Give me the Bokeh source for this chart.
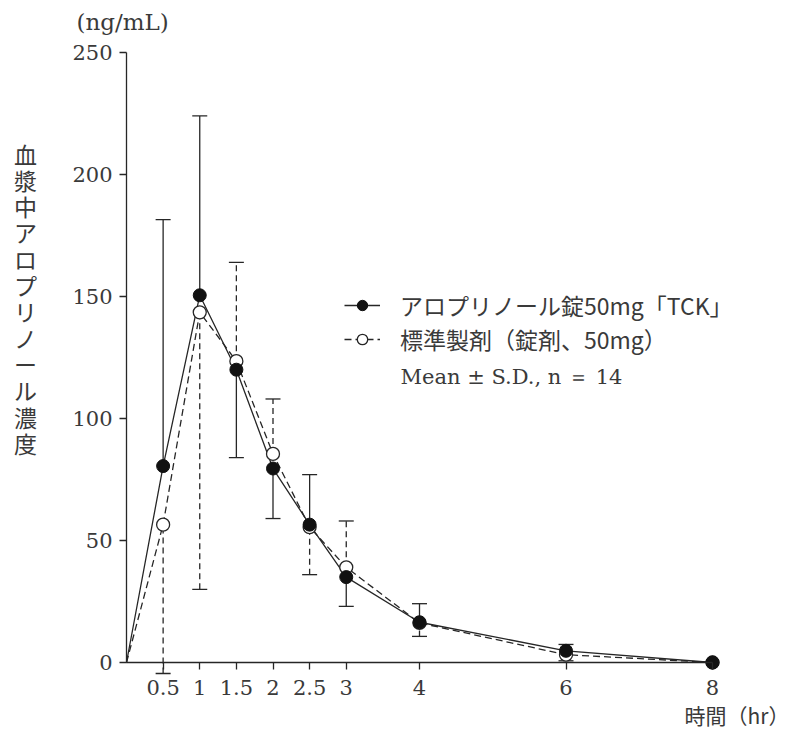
from bokeh.plotting import figure
from bokeh.models import (ColumnDataSource, Whisker, TeeHead, FixedTicker, Legend,
                          LegendItem, Label, Range1d)
from bokeh.embed import file_html
from bokeh.resources import INLINE

# ---------------- data ----------------
time = [0, 0.5, 1, 1.5, 2, 2.5, 3, 4, 6, 8]
test_mean = [0, 80.5, 150.5, 120, 79.5, 56.5, 35, 16.5, 4.8, 0]
test_sd = [0, 101, 73.5, 36, 20.5, 20.5, 12, 7.6, 2.6, 0]
ref_mean = [0, 56.5, 143.5, 123.5, 85.5, 55.5, 39, 16.2, 3.2, 0]
ref_sd = [0, 61, 113.5, 40.5, 22.5, 19.5, 19, 5.5, 2.5, 0]

x_ticks = [0.5, 1, 1.5, 2, 2.5, 3, 4, 6, 8]
x_tick_labels = ["0.5", "1", "1.5", "2", "2.5", "3", "4", "6", "8"]
y_ticks = [0, 50, 100, 150, 200, 250]

test_label = "アロプリノール錠50mg「TCK」"
ref_label = "標準製剤（錠剤、50mg）"
note_label = "Mean ± S.D., n ＝ 14"
y_title = "血漿中アロプリノール濃度"
unit_title = "(ng/mL)"
x_title = "時間（hr）"

# ---------------- layout ----------------
W, H = 792, 729
PX0, PY0 = 126, 662       # pixel of x=0 / y=0
SX, SY = 73.25, 2.44      # pixels per unit


def dx(px):
    return (px - PX0) / SX


def dy(py):
    return (PY0 - py) / SY


INK = "#262626"
TXT = "#3a3a3a"

p = figure(width=W, height=H, x_range=Range1d(dx(0), dx(W)), y_range=Range1d(dy(H), dy(0)),
           output_backend="svg", toolbar_location=None,
           min_border_left=0, min_border_right=0, min_border_top=0, min_border_bottom=0)
p.outline_line_color = None
p.grid.visible = False
p.background_fill_color = "white"
p.border_fill_color = "white"

# axes
p.xaxis.fixed_location = 0
p.yaxis.fixed_location = 0
p.xaxis.bounds = (0, 8)
p.yaxis.bounds = (0, 250)
p.xaxis.ticker = FixedTicker(ticks=x_ticks)
p.yaxis.ticker = FixedTicker(ticks=y_ticks)
p.xaxis.major_label_overrides = {(int(t) if t == int(t) else t): l
                                 for t, l in zip(x_ticks, x_tick_labels)}
for ax in (p.xaxis, p.yaxis):
    ax.axis_line_color = INK
    ax.axis_line_width = 1.3
    ax.major_tick_line_color = INK
    ax.major_tick_line_width = 1.3
    ax.major_tick_out = 7
    ax.major_tick_in = 0
    ax.minor_tick_line_color = None
    ax.major_label_text_font = "DejaVu Serif"
    ax.major_label_text_font_size = "21px"
    ax.major_label_text_color = TXT
p.xaxis.major_label_standoff = 10
p.yaxis.major_label_standoff = 7

# error bars (one-sided: the higher mean shows upward, the lower downward)
def bars(mean, sd, other, up):
    xs, lo, hi = [], [], []
    for t, m, s, o in zip(time, mean, sd, other):
        if s <= 0:
            continue
        if (m >= o) == up:
            xs.append(t)
            lo.append(m if up else m - s)
            hi.append(m + s if up else m)
    return ColumnDataSource(dict(x=xs, lower=lo, upper=hi))


for mean, sd, other, dash in ((test_mean, test_sd, ref_mean, "solid"),
                              (ref_mean, ref_sd, test_mean, "6 4")):
    for up in (True, False):
        src = bars(mean, sd, other, up)
        head = TeeHead(size=15, line_color=INK, line_width=1.3)
        w = Whisker(base="x", lower="lower", upper="upper", source=src,
                    line_color=INK, line_width=1.3, line_dash=dash,
                    upper_head=head if up else None,
                    lower_head=None if up else head,
                    level="underlay")
        p.add_layout(w)

# lines
r_ref_line = p.line(time, ref_mean, line_color=INK, line_width=1.3, line_dash="7 4")
r_test_line = p.line(time, test_mean, line_color=INK, line_width=1.3)

# markers
r_ref_pts = p.scatter(time[1:], ref_mean[1:], size=13, fill_color="white",
                      line_color=INK, line_width=1.3)
r_test_pts = p.scatter(time[1:], test_mean[1:], size=13, fill_color="#111111",
                       line_color="#111111", line_width=1)

# legend
legend = Legend(items=[LegendItem(label=test_label, renderers=[r_test_line, r_test_pts]),
                       LegendItem(label=ref_label, renderers=[r_ref_line, r_ref_pts])],
                location=(344, H - 356), padding=0, spacing=-4, margin=0,
                glyph_width=36, glyph_height=26, label_height=26, label_standoff=20,
                border_line_color=None, background_fill_alpha=0,
                label_text_font="Noto Sans CJK JP", label_text_font_size="23px",
                label_text_color=TXT)
p.add_layout(legend)

p.add_layout(Label(x=dx(400), y=dy(376), text=note_label, text_font="DejaVu Serif",
                   text_font_size="21px", text_color=TXT, text_baseline="middle"))

# titles
p.add_layout(Label(x=dx(76), y=dy(21), text=unit_title, text_font="DejaVu Serif",
                   text_font_size="23px", text_color=TXT, text_baseline="middle"))
p.add_layout(Label(x=dx(684), y=dy(714), text=x_title, text_font="Noto Sans CJK JP",
                   text_font_size="21px", text_color=TXT, text_baseline="middle"))

pitch = 26.3
for i, ch in enumerate(y_title):
    p.add_layout(Label(x=dx(25), y=dy(153 + pitch * i), text=ch,
                       text_font="Noto Sans CJK JP", text_font_size="23px",
                       text_color=TXT, text_align="center", text_baseline="middle"))

open("out.html", "w").write(file_html(p, INLINE))
